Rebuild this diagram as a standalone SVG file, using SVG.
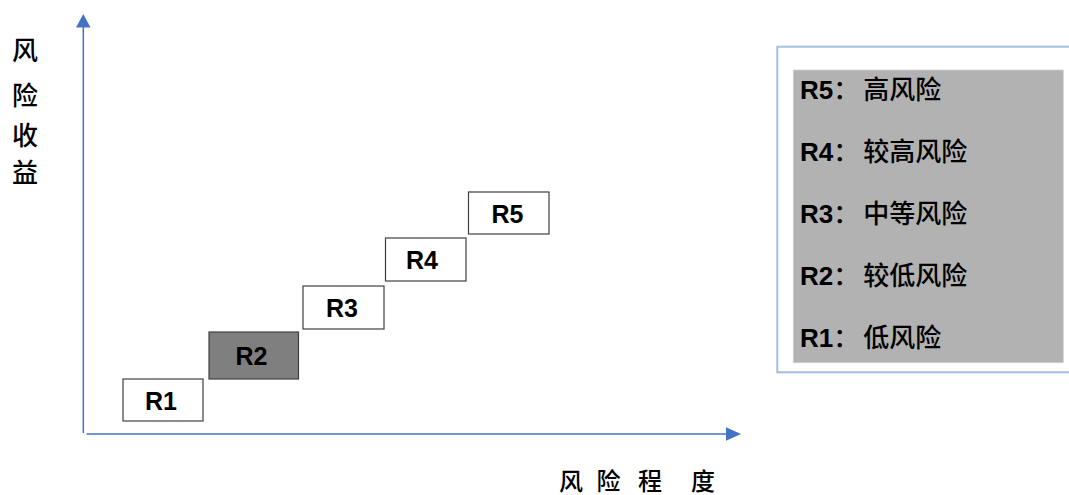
<svg xmlns="http://www.w3.org/2000/svg" width="1069" height="495" viewBox="0 0 1069 495">
  <style>
    .axis { stroke: #4472c4; stroke-width: 1.5; fill: none; }
    .ahead { fill: #4472c4; stroke: none; }
    .box { fill: #ffffff; stroke: #404040; stroke-width: 1.2; }
    .box.dark { fill: #7f7f7f; }
    .lbl { font-family: "Liberation Sans", Arial, sans-serif; font-weight: bold; font-size: 25px; fill: #000; text-anchor: middle; }
    .cjk { font-family: "Noto Sans CJK SC", sans-serif; font-weight: 500; font-size: 26px; fill: #000; text-anchor: middle; }
    .leg { font-family: "Liberation Sans", "Noto Sans CJK SC", sans-serif; font-size: 26px; fill: #000; }
    .leg .b { font-weight: bold; }
    .leg .c { font-family: "Noto Sans CJK SC", sans-serif; font-weight: 500; }
  </style>
  <rect width="1069" height="495" fill="#ffffff"/>

  <g id="connectors">
    <line class="axis" x1="83.3" y1="433" x2="83.3" y2="26"/>
    <polygon class="ahead" points="83.3,14 90.5,27.5 76,27.5"/>
    <line class="axis" x1="86.5" y1="434" x2="727" y2="434"/>
    <polygon class="ahead" points="741,434 726,427.3 726,440.7"/>
  </g>

  <g id="y-label">
    <text class="cjk" x="25" y="60">风</text>
    <text class="cjk" x="25" y="105">险</text>
    <text class="cjk" x="25" y="145">收</text>
    <text class="cjk" x="25" y="182">益</text>
  </g>

  <g id="x-label">
    <text class="cjk" x="571" y="490" style="font-size:24px">风</text>
    <text class="cjk" x="608.5" y="490" style="font-size:24px">险</text>
    <text class="cjk" x="650" y="490" style="font-size:24px">程</text>
    <text class="cjk" x="703" y="490" style="font-size:24px">度</text>
  </g>

  <g id="R1">
    <rect class="box" x="123" y="379" width="80" height="42"/>
    <text class="lbl" x="161" y="409.5">R1</text>
  </g>
  <g id="R2">
    <rect class="box dark" x="209" y="332" width="89.5" height="47"/>
    <text class="lbl" x="251.5" y="365">R2</text>
  </g>
  <g id="R3">
    <rect class="box" x="303" y="286" width="81" height="43"/>
    <text class="lbl" x="342" y="317">R3</text>
  </g>
  <g id="R4">
    <rect class="box" x="385.5" y="238" width="80.5" height="43"/>
    <text class="lbl" x="422" y="268.5">R4</text>
  </g>
  <g id="R5">
    <rect class="box" x="468.5" y="192" width="80.5" height="42"/>
    <text class="lbl" x="507.5" y="223">R5</text>
  </g>

  <g id="legend">
    <rect x="777.3" y="46.7" width="300" height="325.6" fill="#ffffff" stroke="#a6bfe0" stroke-width="2"/>
    <rect x="793.3" y="70" width="270" height="292.7" fill="#b2b2b2" stroke="#d0d0d0" stroke-width="0.8"/>
    <text class="leg" x="800" y="99"><tspan class="b">R5</tspan><tspan class="c">：</tspan><tspan class="c" dx="4">高风险</tspan></text>
    <text class="leg" x="800" y="161"><tspan class="b">R4</tspan><tspan class="c">：</tspan><tspan class="c" dx="4">较高风险</tspan></text>
    <text class="leg" x="800" y="223"><tspan class="b">R3</tspan><tspan class="c">：</tspan><tspan class="c" dx="4">中等风险</tspan></text>
    <text class="leg" x="800" y="285"><tspan class="b">R2</tspan><tspan class="c">：</tspan><tspan class="c" dx="4">较低风险</tspan></text>
    <text class="leg" x="800" y="347"><tspan class="b">R1</tspan><tspan class="c">：</tspan><tspan class="c" dx="4">低风险</tspan></text>
  </g>
</svg>
